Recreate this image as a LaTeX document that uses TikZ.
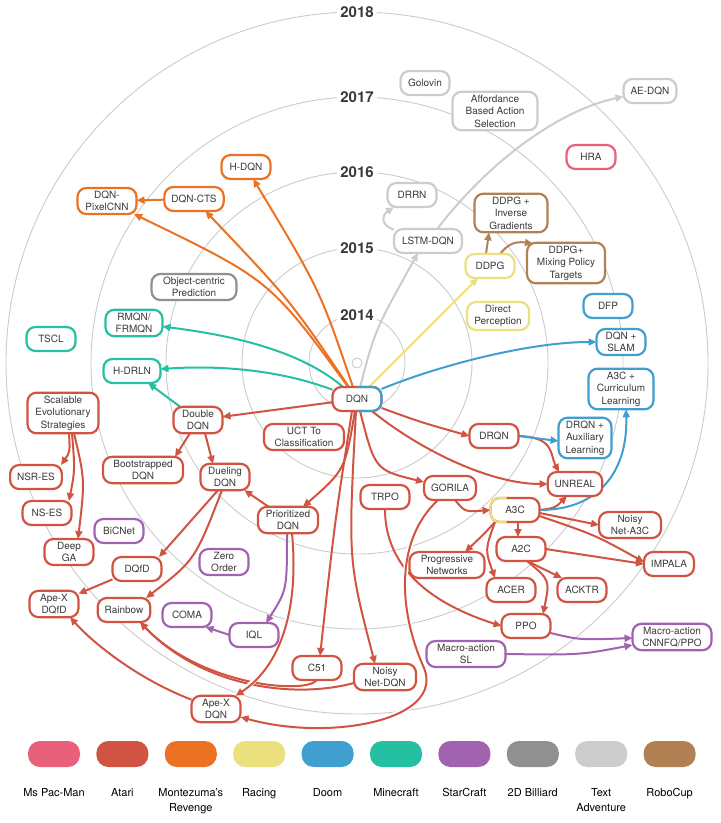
\documentclass[tikz,border=0pt]{standalone}
\usepackage{fontspec}
\setmainfont{TeX Gyre Heros}
\usetikzlibrary{arrows.meta}
\definecolor{pacman}{HTML}{E8607A}
\definecolor{atari}{HTML}{D15442}
\definecolor{montezuma}{HTML}{EC7122}
\definecolor{racing}{HTML}{EBE07E}
\definecolor{doom}{HTML}{409FCE}
\definecolor{minecraft}{HTML}{25C0A1}
\definecolor{starcraft}{HTML}{A162B0}
\definecolor{billiard}{HTML}{909090}
\definecolor{textadv}{HTML}{CCCCCC}
\definecolor{robocup}{HTML}{B18153}
\definecolor{textgray}{HTML}{3A3A3A}
\definecolor{ringgray}{HTML}{CBCBCB}
\pgfdeclarelayer{ringlayer}
\pgfdeclarelayer{edgelayer}
\pgfsetlayers{ringlayer,edgelayer,main}
\tikzset{
  algo/.style={draw=#1, line width=2.2pt, rounded corners=9pt, fill=white, text=textgray,
    align=center, inner xsep=7pt, inner ysep=3pt, outer sep=0pt,
    minimum width=49pt, minimum height=24pt, font=\fontsize{10}{12.5}\selectfont},
  link/.style={draw=#1, line width=2pt, -{Triangle[length=8pt,width=7pt]}},
  casing/.style={preaction={draw=white, line width=5pt, -}},
  ring/.style={draw=ringgray, line width=0.9pt},
  yearlabel/.style={fill=white, text=textgray, inner sep=3pt, font=\fontsize{15}{15}\selectfont\bfseries},
  swatch/.style={fill=#1, rounded corners=12pt, minimum width=52pt, minimum height=26pt, inner sep=0pt},
  legendtext/.style={anchor=north, align=center, inner sep=0pt, text=black, font=\fontsize{11}{15}\selectfont}
}
\begin{document}
\begin{tikzpicture}[x=1pt,y=-1pt]
\useasboundingbox (0,0) rectangle (721,823);
% year rings
\begin{pgfonlayer}{ringlayer}
\coordinate (origin) at (357,363);
\draw[ring] (origin) circle[radius=5];
\foreach \r in {48,115,191,266,351}{
  \draw[ring] (origin) circle[radius=\r];
}
\end{pgfonlayer}
\foreach \r/\yr in {48/2014,115/2015,191/2016,266/2017,351/2018}{
  \node[yearlabel] (y\yr) at (357,{363-\r}) {\yr};
}

% algorithms
\node[algo=atari] (dqn) at (357,399) {DQN};
\node[algo=montezuma] (hdqn) at (246,167) {H-DQN};
\node[algo=montezuma, minimum width=59pt] (dqncts) at (194,199) {DQN-CTS};
\node[algo=montezuma, minimum width=59pt] (pixelcnn) at (107,201) {DQN-\\PixelCNN};
\node[algo=textadv] (golovin) at (425,83) {Golovin};
\node[algo=textadv, minimum width=85pt] (afford) at (495,111) {Affordance\\Based Action\\Selection};
\node[algo=textadv] (aedqn) at (650,91) {AE-DQN};
\node[algo=textadv] (drrn) at (412,195) {DRRN};
\node[algo=textadv, minimum width=68pt] (lstmdqn) at (428,241) {LSTM-DQN};
\node[algo=pacman] (hra) at (591,157) {HRA};
\node[algo=robocup, minimum width=73pt] (ddpgig) at (511,213) {DDPG +\\Inverse\\Gradients};
\node[algo=robocup, minimum width=78pt] (ddpgmix) at (566,263) {DDPG+\\Mixing Policy\\Targets};
\node[algo=racing] (ddpg) at (490,266) {DDPG};
\node[algo=racing, minimum width=62pt] (directp) at (498,316) {Direct\\Perception};
\node[algo=doom] (dfp) at (608,306) {DFP};
\node[algo=doom] (dqnslam) at (621,342) {DQN +\\SLAM};
\node[algo=doom, minimum width=65pt] (a3ccurr) at (621,389) {A3C +\\Curriculum\\Learning};
\node[algo=doom] (drqnaux) at (585,438) {DRQN +\\Auxiliary\\Learning};
\node[algo=billiard, minimum width=85pt] (objcentric) at (194,287) {Object-centric\\Prediction};
\node[algo=minecraft] (tscl) at (51,339) {TSCL};
\node[algo=minecraft, minimum width=57pt] (rmqn) at (134,323) {RMQN/\\FRMQN};
\node[algo=minecraft, minimum width=57pt] (hdrln) at (132,371) {H-DRLN};
\node[algo=atari, minimum width=71pt] (ses) at (63,413) {Scalable\\Evolutionary\\Strategies};
\node[algo=atari] (nsres) at (36,477) {NSR-ES};
\node[algo=atari] (nses) at (47,513) {NS-ES};
\node[algo=atari] (deepga) at (69,552) {Deep\\GA};
\node[algo=atari] (apexdqfd) at (54,604) {Ape-X\\DQfD};
\node[algo=atari] (dqfd) at (137,569) {DQfD};
\node[algo=atari] (rainbow) at (124,610) {Rainbow};
\node[algo=atari] (apexdqn) at (216,709) {Ape-X\\DQN};
\node[algo=atari, minimum width=60pt] (prio) at (288,520) {Prioritized\\DQN};
\node[algo=atari] (double) at (198,420) {Double\\DQN};
\node[algo=atari, minimum width=80pt] (boot) at (143,470) {Bootstrapped\\DQN};
\node[algo=atari] (dueling) at (225,477) {Dueling\\DQN};
\node[algo=atari, minimum width=80pt] (uct) at (304,437) {UCT To\\Classification};
\node[algo=atari] (drqn) at (494,436) {DRQN};
\node[algo=atari] (unreal) at (575,484) {UNREAL};
\node[algo=atari] (trpo) at (385,497) {TRPO};
\node[algo=atari] (gorila) at (450,488) {GORILA};
\node[algo=atari] (a3c) at (515,510) {A3C};
\node[algo=atari] (a2c) at (521,549) {A2C};
\node[algo=atari, minimum width=75pt] (prognet) at (447,565) {Progressive\\Networks};
\node[algo=atari] (acer) at (511,590) {ACER};
\node[algo=atari] (acktr) at (582,590) {ACKTR};
\node[algo=atari, minimum width=62pt] (noisya3c) at (630,525) {Noisy\\Net-A3C};
\node[algo=atari] (impala) at (669,564) {IMPALA};
\node[algo=atari] (ppo) at (526,626) {PPO};
\node[algo=atari] (c51) at (317,668) {C51};
\node[algo=atari, minimum width=62pt] (noisydqn) at (385,677) {Noisy\\Net-DQN};
\node[algo=starcraft] (bicnet) at (119,531) {BiCNet};
\node[algo=starcraft] (zero) at (224,562) {Zero\\Order};
\node[algo=starcraft] (coma) at (187,615) {COMA};
\node[algo=starcraft] (iql) at (254,635) {IQL};
\node[algo=starcraft, minimum width=79pt] (macrosl) at (466,654) {Macro-action\\SL};
\node[algo=starcraft, minimum width=79pt] (macrocnn) at (672,637) {Macro-action\\CNNFQ/PPO};

% two-coloured borders
\begin{scope}
\clip ([yshift=5pt]dqn.north) rectangle ([xshift=5pt,yshift=-5pt]dqn.south east);
\draw[doom, line width=2.2pt, rounded corners=9pt] (dqn.south west) rectangle (dqn.north east);
\end{scope}
\begin{scope}
\clip ([xshift=-5pt,yshift=5pt]a3c.north west) rectangle ([xshift=16pt,yshift=-5pt]a3c.south west);
\draw[racing, line width=2.2pt, rounded corners=9pt] (a3c.south west) rectangle (a3c.north east);
\end{scope}

% connectors
\begin{pgfonlayer}{edgelayer}
\draw[link=montezuma] (dqn) .. controls (320,290) .. (hdqn);
\draw[link=montezuma] (dqn) .. controls (290,300) .. (dqncts);
\draw[link=montezuma] (dqn) .. controls (270,280) .. (pixelcnn);
\draw[link=montezuma] (dqncts) -- (pixelcnn);
\draw[link=textadv] (dqn) .. controls (375,330) .. ([xshift=-10pt]lstmdqn.south);
\draw[link=textadv] (lstmdqn) .. controls (490,160) and (560,110) .. (aedqn);
\draw[link=textadv] (lstmdqn) .. controls (380,225) and (382,215) .. (drrn);
\draw[link=racing] (dqn) -- (ddpg);
\draw[link=robocup] ([xshift=-4pt]ddpg.north) -- ([xshift=-22pt]ddpgig.south);
\draw[link=robocup] ([xshift=10pt]ddpg.north) .. controls (508,244) and (515,241) .. ([xshift=6pt,yshift=-1pt]ddpgmix.north west);
\draw[link=minecraft] (dqn) .. controls (300,350) and (230,335) .. (rmqn);
\draw[link=minecraft] (dqn) .. controls (280,370) and (220,365) .. (hdrln);
\draw[link=minecraft] (double) -- (hdrln);
\draw[link=atari] (dqn) -- (double);
\draw[link=atari] ([xshift=-8pt]double.south) -- ([xshift=32pt]boot.north);
\draw[link=atari] ([xshift=7pt]double.south) -- ([xshift=-12pt]dueling.north);
\draw[link=atari] (prio) -- (dueling);
\draw[link=atari] (dqn) .. controls (345,470) .. (prio);
\draw[link=atari] ([xshift=6pt]ses.south) .. controls (70,452) .. ([xshift=25pt]nsres.north);
\draw[link=atari] ([xshift=9pt]ses.south) .. controls (75,470) .. ([xshift=22pt]nses.north);
\draw[link=atari] ([xshift=11pt]ses.south) .. controls (85,480) .. ([xshift=9pt]deepga.north);
\draw[link=atari] ([xshift=-7pt]dueling.south) -- ([xshift=22pt]dqfd.north);
\draw[link=atari] ([xshift=-3pt]dueling.south) .. controls (195,560) .. ([xshift=22pt]rainbow.north);
\draw[link=atari] (dqfd) -- (apexdqfd);
\draw[link=atari] (apexdqn) .. controls (140,680) and (95,645) .. ([xshift=16pt]apexdqfd.south);
\draw[link=atari] ([yshift=-6pt]noisydqn.west) .. controls (290,700) and (200,685) .. ([xshift=16pt]rainbow.south);
\draw[link=atari] (c51.south) .. controls (305,695) and (200,685) .. ([xshift=16pt]rainbow.south);
\draw[link=atari, casing] ([xshift=4pt]prio.south) .. controls (300,620) and (275,670) .. ([xshift=-5pt]apexdqn.north east);
\draw[link=starcraft] ([xshift=-1pt]prio.south) .. controls (287,590) .. ([xshift=12pt]iql.north);
\draw[link=starcraft] (iql.west) -- ([xshift=-6pt]coma.south east);
\draw[link=atari] ([xshift=-5pt]dqn.south) .. controls (335,520) .. ([xshift=3pt]c51.north);
\draw[link=atari] ([xshift=-1pt]dqn.south) .. controls (348,560) .. ([xshift=-10pt]noisydqn.north);
\draw[link=atari] (dqn) .. controls (375,470) .. ([yshift=6pt]gorila.west);
\draw[link=atari] (dqn) .. controls (420,422) .. (drqn.west);
\draw[link=atari] (dqn) .. controls (420,450) and (490,484) .. (unreal.west);
\draw[link=atari] (drqn.east) .. controls (555,437) and (550,455) .. ([xshift=-16pt]unreal.north);
\draw[link=doom] (dqn) .. controls (440,365) and (530,342) .. (dqnslam.west);
\draw[link=doom] (drqn.east) -- ([yshift=-3pt]drqnaux.west);
\draw[link=atari] ([xshift=5pt]gorila.south) .. controls (465,512) .. (a3c.west);
\draw[link=atari] (trpo.south) .. controls (385,560) and (420,600) .. (ppo.west);
\draw[link=atari, casing] ([xshift=-12pt]gorila.south) .. controls (395,540) and (398,610) .. (424,668)
  .. controls (445,720) and (330,742) .. ([yshift=-8pt]apexdqn.east);
\draw[link=atari] (a3c.east) .. controls (555,508) .. ([xshift=-8pt]unreal.south);
\draw[link=doom] (a3c.east) .. controls (600,510) and (628,470) .. ([xshift=5pt]a3ccurr.south);
\draw[link=atari] ([yshift=-3pt]a3c.east) -- (noisya3c.west);
\draw[link=atari] ([yshift=-6pt]a3c.east) .. controls (595,535) .. ([yshift=2pt]impala.west);
\draw[link=atari] (a2c.east) -- (impala.west);
\draw[link=atari] ([xshift=3pt]a3c.south) -- ([xshift=-3pt]a2c.north);
\draw[link=atari] ([xshift=-20pt]a3c.south) .. controls (485,533) .. ([xshift=18pt]prognet.north);
\draw[link=atari] ([xshift=-20pt]a3c.south) .. controls (485,550) .. ([xshift=-16pt]acer.north);
\draw[link=atari] ([xshift=6pt]a2c.south) -- ([xshift=-20pt]acktr.north);
\draw[link=atari] ([xshift=6pt]a2c.south) .. controls (550,580) .. ([xshift=17pt]ppo.north);
\draw[link=starcraft] ([yshift=-7pt]ppo.east) .. controls (580,640) .. ([yshift=-1pt]macrocnn.west);
\draw[link=starcraft] (macrosl.east) .. controls (580,655) .. ([yshift=-8pt]macrocnn.west);
\end{pgfonlayer}

% legend
\foreach \col/\game [count=\i from 0] in {pacman/Ms Pac-Man, atari/Atari, montezuma/{Montezuma's\\Revenge},
    racing/Racing, doom/Doom, minecraft/Minecraft, starcraft/StarCraft, billiard/2D Billiard,
    textadv/{Text\\Adventure}, robocup/RoboCup}{
  \node[swatch=\col] (sw\i) at ({54+68.4*\i},754) {};
  \node[legendtext] (lg\i) at ({54+68.4*\i},788) {\game};
}
\end{tikzpicture}
\end{document}
